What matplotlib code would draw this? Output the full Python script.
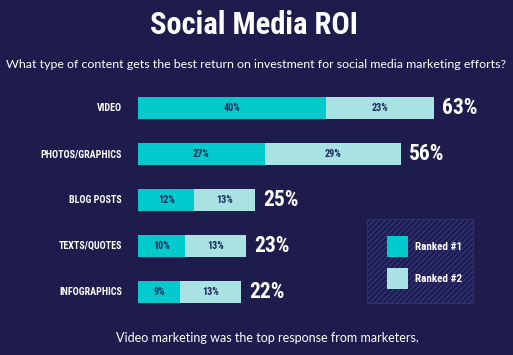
import matplotlib
matplotlib.use("Agg")
import matplotlib.pyplot as plt
from matplotlib.patches import Rectangle

# data
categories = ["VIDEO", "PHOTOS/GRAPHICS", "BLOG POSTS", "TEXTS/QUOTES", "INFOGRAPHICS"]
ranked_1 = [40, 27, 12, 10, 9]
ranked_2 = [23, 29, 13, 13, 13]
totals = [63, 56, 25, 23, 22]
series_names = ["Ranked #1", "Ranked #2"]

BG = "#1e1b4d"
C1 = "#00cacc"
C2 = "#a9e2e2"
INK = "#1d2a5c"
COND = ["Liberation Sans Narrow", "Roboto Condensed", "Roboto", "DejaVu Sans"]
BODY = ["Lato", "Open Sans", "DejaVu Sans"]

W, H = 513, 355
fig = plt.figure(figsize=(W / 100, H / 100), dpi=100, facecolor=BG)


def fx(px):
    return px / W


def fy(py):
    return 1 - py / H


# bars area: left edge at 138px, 4.7 px per percent; rows 46px apart starting at 85px
px_per_pct = 4.7
ax = fig.add_axes([fx(138), fy(315), fx(W - 138), (315 - 85) / H])
ax.set_facecolor("none")
ax.set_xlim(0, (W - 138) / px_per_pct)
ax.set_ylim(len(categories) - 0.5, -0.5)
ax.axis("off")

y = list(range(len(categories)))
ax.barh(y, ranked_1, height=0.48, color=C1, label=series_names[0])
ax.barh(y, ranked_2, left=ranked_1, height=0.48, color=C2, label=series_names[1])

for i, cat in enumerate(categories):
    a, b, t = ranked_1[i], ranked_2[i], totals[i]
    ax.text(a / 2, i, f"{a}%", ha="center", va="center", color=INK,
            fontsize=7.3, fontweight="bold", family=COND)
    ax.text(a + b / 2, i, f"{b}%", ha="center", va="center", color=INK,
            fontsize=7.3, fontweight="bold", family=COND)
    ax.text(t + 1.7, i, f"{t}%", ha="left", va="center", color="white",
            fontsize=15.5, fontweight="bold", family=COND)
    ax.text(-3.4, i, cat, ha="right", va="center", color="white",
            fontsize=7.2, fontweight="bold", family=COND, clip_on=False)

# titles
fig.text(fx(254), fy(25), "Social Media ROI", ha="center", va="center", color="white",
         fontsize=22, fontweight="bold", family=COND)
fig.text(0.5, fy(64), "What type of content gets the best return on investment for social media marketing efforts?",
         ha="center", va="center", color="white", fontsize=8.9, family=BODY)
fig.text(fx(267), fy(338), "Video marketing was the top response from marketers.",
         ha="center", va="center", color="white", fontsize=9.0, family=BODY)

# legend box with diagonal hatching
plt.rcParams["hatch.linewidth"] = 1.0
box = Rectangle((fx(367), fy(303)), fx(473 - 367), (303 - 219) / H,
                transform=fig.transFigure, facecolor=BG, edgecolor="#30357a",
                hatch="//////", linewidth=0.6)
fig.add_artist(box)
for k, (name, col) in enumerate(zip(series_names, [C1, C2])):
    top = 236 + k * 32
    fig.add_artist(Rectangle((fx(387), fy(top + 21)), fx(21), 21 / H,
                             transform=fig.transFigure, facecolor=col, edgecolor="none"))
    fig.text(fx(415), fy(top + 10.5), name, ha="left", va="center", color="white",
             fontsize=8, fontweight="bold", family=COND)

fig.savefig("out.png", dpi=100, facecolor=BG)
